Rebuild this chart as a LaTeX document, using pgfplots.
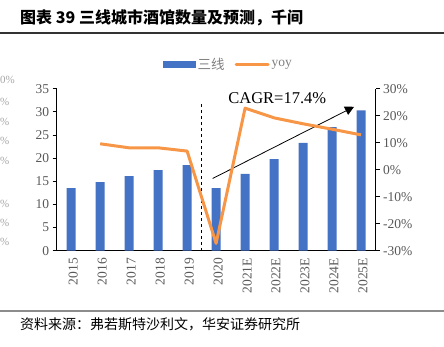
\documentclass[border=0pt]{standalone}
\usepackage{pgfplots}
\pgfplotsset{compat=1.18}
\usepackage{fontspec}
\setmainfont{Liberation Serif}
\newfontfamily\cjk{Noto Sans CJK SC}
\usetikzlibrary{arrows.meta}
\definecolor{barblue}{HTML}{4472C4}
\definecolor{lineorange}{HTML}{F79646}
\definecolor{tickgray}{HTML}{595959}
\pgfplotstableread{
x v
0 13.5
1 14.8
2 16.1
3 17.4
4 18.5
5 13.5
6 16.6
7 19.8
8 23.3
9 26.7
10 30.3
}\bars
\pgfplotstableread{
x g
1 9.6
2 8.1
3 8.1
4 6.9
5 -27.3
6 22.8
7 19.2
8 17.0
9 15.0
10 12.9
}\yoy
\begin{document}
\begin{tikzpicture}
\useasboundingbox (0bp,0bp) rectangle (444bp,347bp);
% faint labels at the left edge
\begin{scope}[every node/.style={inner sep=0, text=gray!70, font=\fontsize{11bp}{13bp}\selectfont}]
\node[anchor=west] at (0bp,267bp) {0\%};
\node[anchor=west] at (0bp,245bp) {\%};
\node[anchor=west] at (0bp,225bp) {\%};
\node[anchor=west] at (0bp,206bp) {\%};
\node[anchor=west] at (0bp,186bp) {\%};
\node[anchor=west] at (0bp,143bp) {\%};
\node[anchor=west] at (0bp,124bp) {\%};
\node[anchor=west] at (0bp,105bp) {\%};
\end{scope}
% title
\node[anchor=west, inner sep=0] at (20bp,329bp) {\cjk\bfseries\fontsize{16bp}{18bp}\selectfont 图表 39 三线城市酒馆数量及预测，千间};
\draw[line width=1.2bp, black!80] (0bp,314bp) -- (444bp,314bp);
% source
\draw[line width=2bp, gray!90] (0bp,36bp) -- (444bp,36bp);
\node[anchor=west, inner sep=0] at (20bp,23bp) {\cjk\fontsize{14bp}{16bp}\selectfont 资料来源：弗若斯特沙利文，华安证券研究所};

\begin{axis}[
  at={(56.7bp,96.3bp)}, anchor=south west,
  width=318.8bp, height=162bp, scale only axis,
  xmin=-0.5, xmax=10.5, ymin=0, ymax=35,
  axis x line*=bottom, axis y line*=left,
  axis line style={black, line width=0.8bp},
  ytick={0,5,...,35},
  xtick={0,...,10},
  xticklabels={2015,2016,2017,2018,2019,2020,2021E,2022E,2023E,2024E,2025E},
  x tick label style={rotate=90, anchor=east, text=tickgray, font=\fontsize{13.5bp}{15bp}\selectfont, yshift=-2bp},
  y tick label style={text=tickgray, font=\fontsize{13.5bp}{15bp}\selectfont},
  /pgf/number format/assume math mode=true,
  xtick style={draw=none},
  ytick style={black, line width=0.8bp},
  extra x ticks={-0.5,0.5,...,10.5},
  extra x tick labels={},
  extra x tick style={tick style={draw=black, line width=0.8bp}, major tick length=4bp},
  tick align=outside, major tick length=4bp,
  xtick pos=bottom, ytick pos=left,
  clip=false,
]
\addplot[ybar, bar width=9bp, fill=barblue, draw=none] table[x=x,y=v] {\bars};
\draw[dashed, black, line width=0.9bp] (axis cs:4.5,0) -- (axis cs:4.5,31.7);
\draw[black, line width=0.8bp, -{Triangle[length=9bp,width=9bp]}] (axis cs:4.88,15.6) -- (axis cs:9.76,31.1);
\node[inner sep=0] at (axis cs:7.11,32.9) {\fontsize{16.5bp}{18bp}\selectfont CAGR=17.4\%};
\end{axis}

\begin{axis}[
  at={(56.7bp,96.3bp)}, anchor=south west,
  width=318.8bp, height=162bp, scale only axis,
  xmin=-0.5, xmax=10.5, ymin=-30, ymax=30,
  axis x line=none, axis y line*=right,
  axis line style={black, line width=0.8bp},
  ytick={-30,-20,...,30},
  yticklabel={\pgfmathprintnumber{\tick}\%},
  y tick label style={text=tickgray, font=\fontsize{13.5bp}{15bp}\selectfont},
  /pgf/number format/assume math mode=true,
  ytick style={black, line width=0.8bp},
  tick align=outside, major tick length=4bp,
  ytick pos=right,
  clip=false,
  legend style={at={(0.539,1.152)}, anchor=center, draw=none, fill=none,
    legend columns=2, font=\fontsize{13.5bp}{15bp}\selectfont, text=gray,
    /tikz/every even column/.append style={column sep=8bp}},
]
\addlegendimage{legend image code/.code={\fill[barblue] (0bp,-3bp) rectangle (32bp,3bp);}}
\addlegendentry{\cjk 三线}
\addplot[lineorange, line width=3bp, line join=round, mark=none,
  legend image code/.code={\draw[lineorange, line width=3bp, line cap=round] (0bp,0bp) -- (32bp,0bp);}]
  table[x=x,y=g] {\yoy};
\addlegendentry{yoy}
\end{axis}
\end{tikzpicture}
\end{document}
